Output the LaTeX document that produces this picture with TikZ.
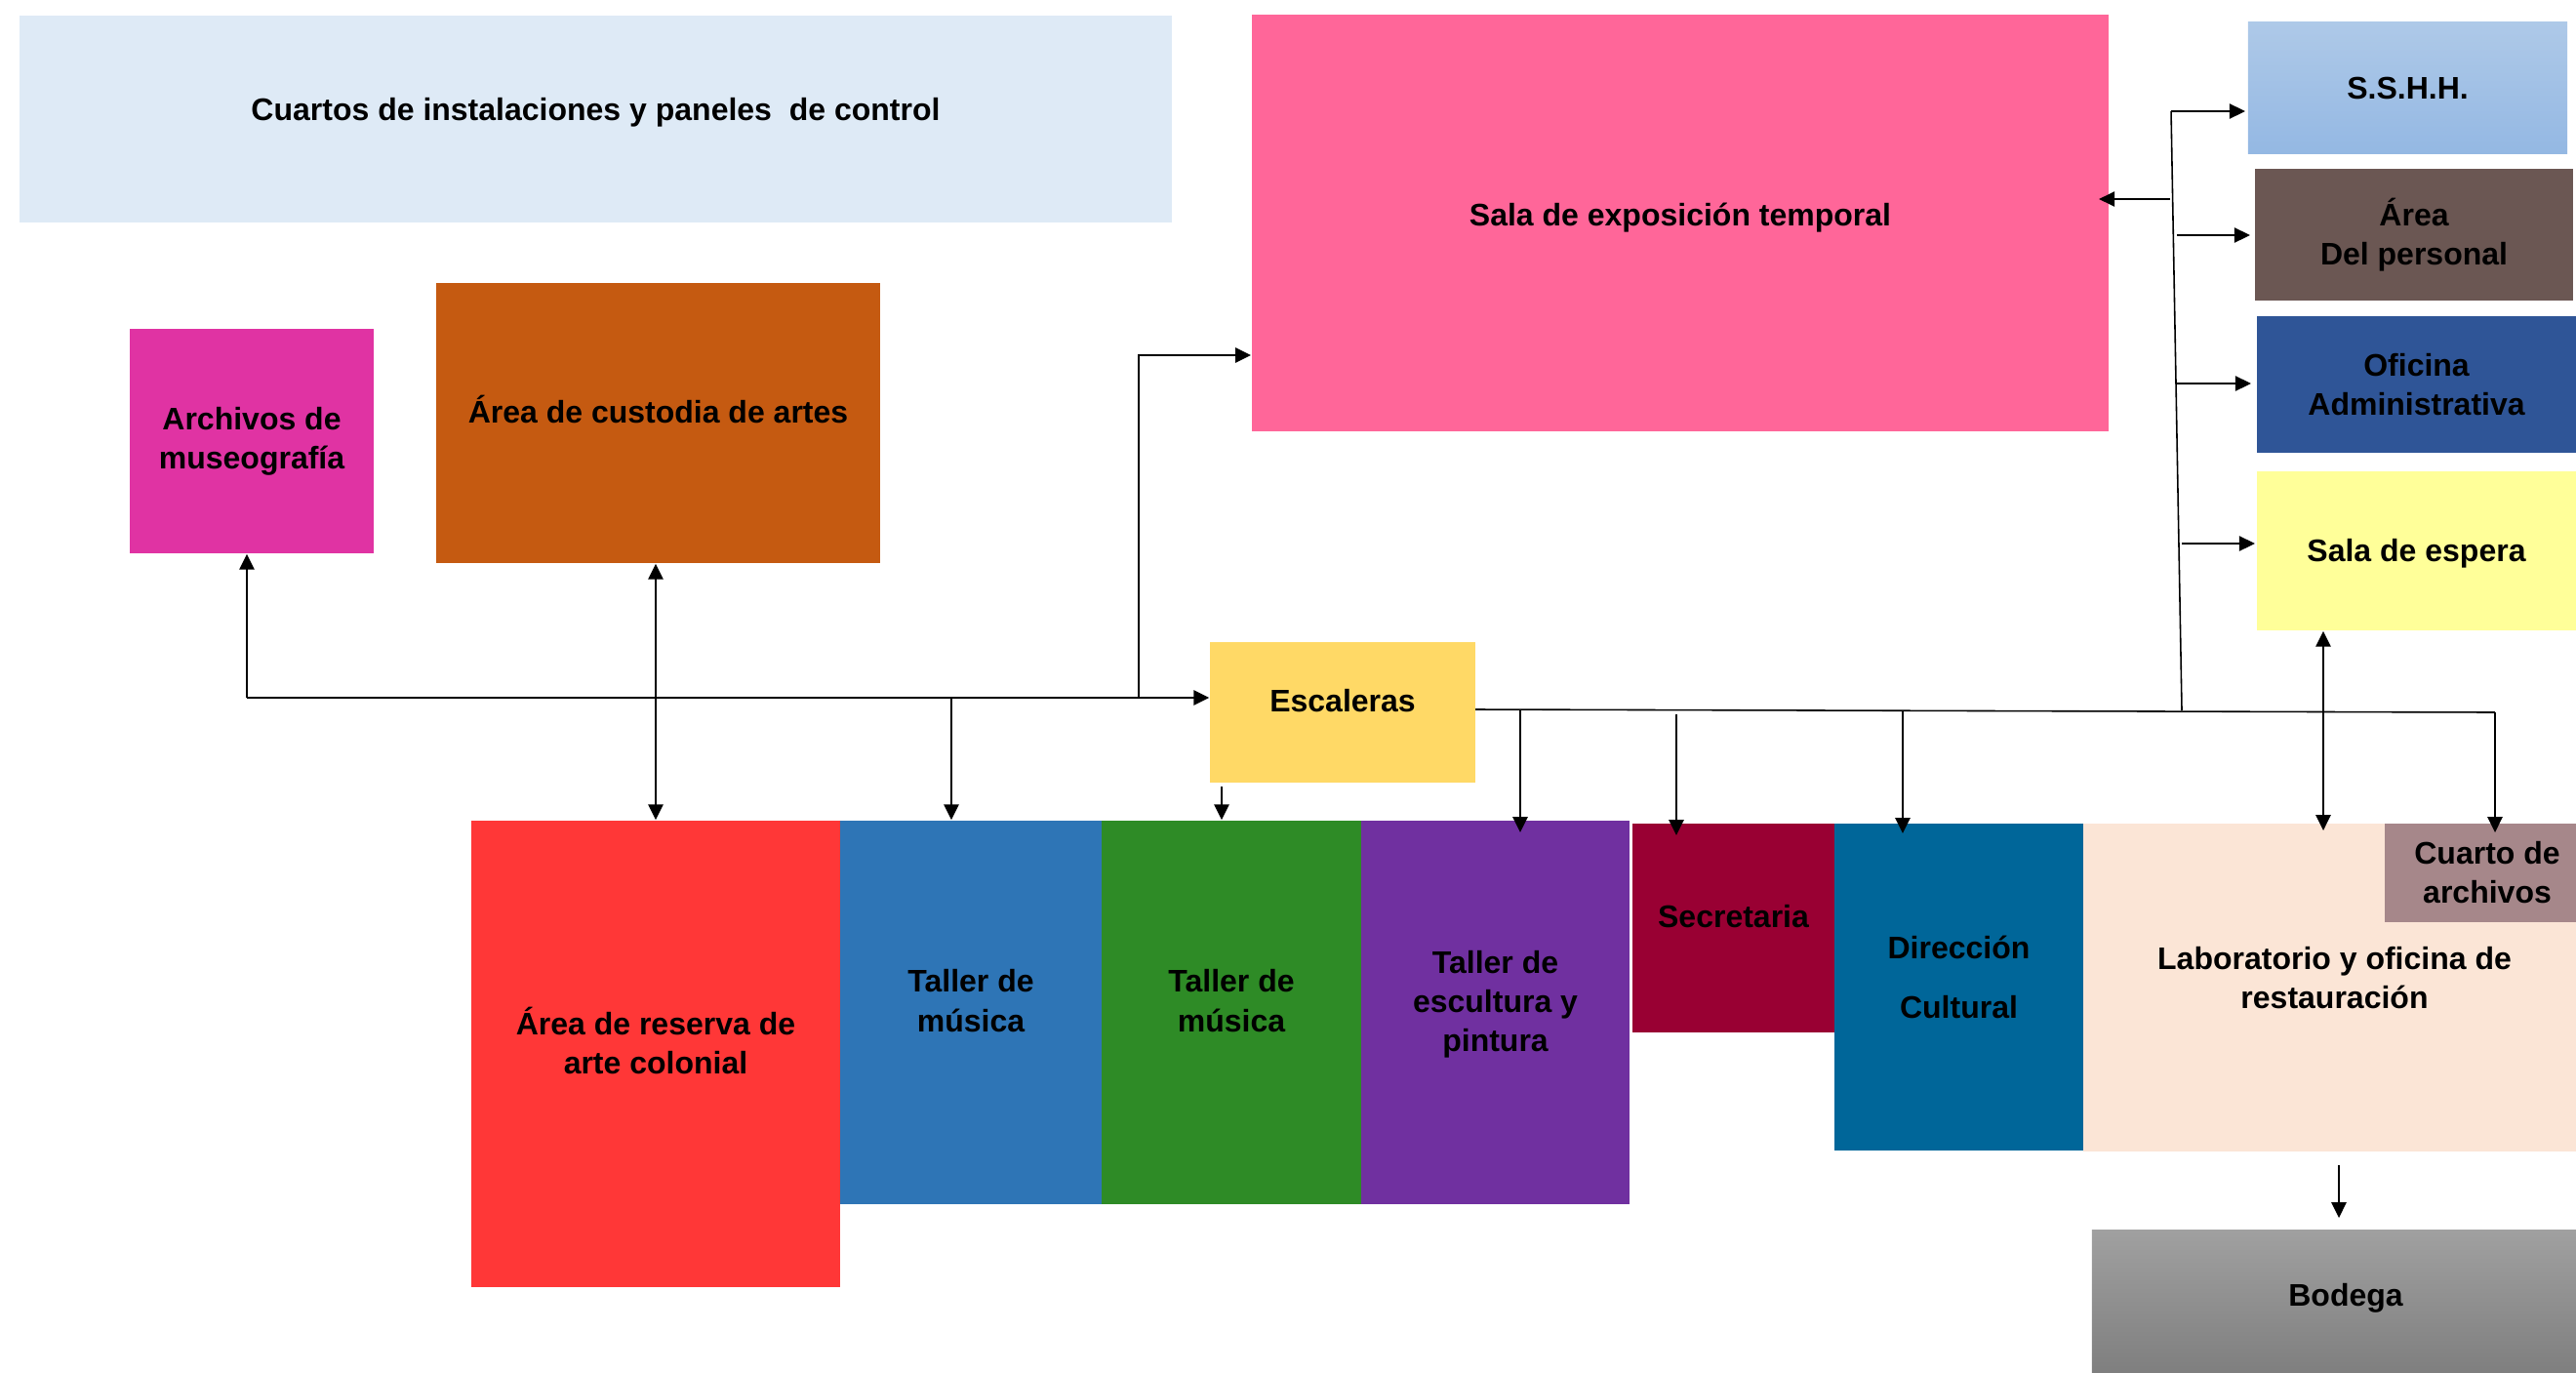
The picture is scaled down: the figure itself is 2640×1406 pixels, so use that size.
\documentclass[tikz,border=0pt]{standalone}
\usepackage{fontspec}
\setmainfont{Liberation Sans}
\usetikzlibrary{arrows.meta}
\definecolor{cuartosC}{HTML}{DEEAF6}
\definecolor{salaC}{HTML}{FF6699}
\definecolor{archC}{HTML}{E033A3}
\definecolor{custC}{HTML}{C55A11}
\definecolor{resC}{HTML}{FF3737}
\definecolor{tmA}{HTML}{2E75B6}
\definecolor{tmB}{HTML}{2E8B26}
\definecolor{tescC}{HTML}{7030A0}
\definecolor{secC}{HTML}{990033}
\definecolor{dirC}{HTML}{006699}
\definecolor{labC}{HTML}{FBE5D6}
\definecolor{cuartoC}{HTML}{A6878A}
\definecolor{bodTop}{HTML}{A0A0A0}
\definecolor{bodBot}{HTML}{7F7F7F}
\definecolor{sshhTop}{HTML}{AEC9E8}
\definecolor{sshhBot}{HTML}{94B8E3}
\definecolor{persC}{HTML}{6B5753}
\definecolor{ofiC}{HTML}{2F5597}
\definecolor{espC}{HTML}{FFFF99}
\definecolor{escC}{HTML}{FFD966}
% shift a (possibly multi-line) label right by #1 and up by #2, keeping its size
\newcommand\mvtxt[3]{\raisebox{#2}[\height][\depth]{\hspace*{#1}\begin{tabular}{@{}c@{}}#3\end{tabular}\hspace*{-#1}}}
\begin{document}
\begin{tikzpicture}[x=0.01cm,y=-0.01cm,
  box/.style={rectangle, inner sep=2pt, align=center, text=black,
    font=\fontsize{9.1pt}{11.4pt}\selectfont\bfseries},
  thinarrow/.style={line width=0.6pt, -{Triangle[length=4.5pt,width=4.3pt]}},
  dblarrow/.style={line width=0.6pt, {Triangle[length=4.5pt,width=4.3pt]}-{Triangle[length=4.5pt,width=4.3pt]}},
  thickarrow/.style={line width=0.65pt, -{Triangle[length=4.6pt,width=4.3pt]}},
  busline/.style={line width=0.45pt}]
\useasboundingbox (0,0) rectangle (2640,1406);

% boxes
\node[box, fill=cuartosC, minimum width=11.81cm, minimum height=2.12cm] (cuartos) at (610.5,122) {\mvtxt{0cm}{0.07cm}{Cuartos de instalaciones y paneles~~de control}};
\node[box, fill=salaC, minimum width=8.78cm, minimum height=4.27cm] (sala) at (1722,228.5) {\mvtxt{0cm}{0.05cm}{Sala de exposición temporal}};
\node[box, fill=archC, minimum width=2.50cm, minimum height=2.30cm] (arch) at (258,452) {Archivos de\\museografía};
\node[box, fill=custC, minimum width=4.55cm, minimum height=2.87cm] (cust) at (674.5,433.5) {\mvtxt{0cm}{0.08cm}{Área de custodia de artes}};
\node[box, fill=escC, minimum width=2.72cm, minimum height=1.44cm] (esc) at (1376,730) {\mvtxt{0cm}{0.085cm}{Escaleras}};
\node[box, fill=resC, minimum width=3.78cm, minimum height=4.78cm] (res) at (672,1080) {\mvtxt{0cm}{0.08cm}{Área de reserva de\\arte colonial}};
\node[box, fill=tmA, minimum width=2.68cm, minimum height=3.93cm] (tmus1) at (995,1037.5) {\mvtxt{0cm}{0.085cm}{Taller de\\música}};
\node[box, fill=tmB, minimum width=2.66cm, minimum height=3.93cm] (tmus2) at (1262,1037.5) {\mvtxt{0cm}{0.085cm}{Taller de\\música}};
\node[box, fill=tescC, minimum width=2.75cm, minimum height=3.93cm] (tesc) at (1532.5,1037.5) {\mvtxt{0cm}{0.08cm}{Taller de\\escultura y\\pintura}};
\node[box, fill=secC, minimum width=2.07cm, minimum height=2.14cm] (sec) at (1776.5,951) {\mvtxt{0cm}{0.09cm}{Secretaria}};
\node[box, fill=dirC, minimum width=2.55cm, minimum height=3.35cm] (dir) at (2007.5,1011.5) {\mvtxt{0cm}{0.065cm}{Dirección\\[6.2pt]Cultural}};
\node[box, fill=labC, minimum width=5.05cm, minimum height=3.36cm] (lab) at (2387.5,1012) {\mvtxt{0.05cm}{0.065cm}{Laboratorio y oficina de\\restauración}};
\node[box, fill=cuartoC, minimum width=1.96cm, minimum height=1.01cm] (cuarto) at (2542,894.5) {\mvtxt{0.07cm}{-0.03cm}{Cuarto de\\archivos}};
\node[box, top color=bodTop, bottom color=bodBot, minimum width=4.96cm, minimum height=1.45cm] (bod) at (2392,1333.5) {\mvtxt{0.12cm}{0.03cm}{Bodega}};
\node[box, top color=sshhTop, bottom color=sshhBot, minimum width=3.27cm, minimum height=1.34cm] (sshh) at (2467.5,90) {S.S.H.H.};
\node[box, fill=persC, minimum width=3.26cm, minimum height=1.35cm] (pers) at (2474,240.5) {Área\\Del personal};
\node[box, fill=ofiC, minimum width=3.27cm, minimum height=1.40cm] (ofi) at (2476.5,394) {Oficina\\Administrativa};
\node[box, fill=espC, minimum width=3.27cm, minimum height=1.63cm] (esp) at (2476.5,564.5) {\mvtxt{0cm}{-0.03cm}{Sala de espera}};

% left bus
\coordinate (bA) at (253,715);
\coordinate (bT) at (975,715);
\coordinate (bS) at (1167,715);
\coordinate (sU) at (1167,364);
\draw[thinarrow] (bA) -- (esc.west |- bA);
\draw[thinarrow] (bA) -- (bA |- arch.south);
\draw[dblarrow] (res.north |- cust.south) -- (res.north);
\draw[thinarrow] (bT) -- (bT |- tmus1.north);
\draw[thinarrow] (bS) -- (sU) -- (sala.west |- sU);
\coordinate (eS) at (1252,806);
\draw[thinarrow] (eS) -- (eS |- tmus2.north);

% right bus
\coordinate (rA) at (1512,727);
\coordinate (rB) at (2557,730);
\draw[busline] (rA) -- (rB);
\draw[thinarrow] (rB) -- (2557,853);
\coordinate (rP) at (1558,727.5);
\draw[thinarrow] (rP) -- (1558,853);
\coordinate (rS) at (1718,732);
\draw[thinarrow] (rS) -- (1718,856);
\coordinate (rD) at (1950,728.5);
\draw[thinarrow] (rD) -- (1950,854);
\coordinate (rL) at (2381,851);
\draw[dblarrow] (rL |- esp.south) -- (rL);

% trunk to the right column
\coordinate (tB) at (2236,728);
\coordinate (tT) at (2225,114);
\draw[busline] (tB) -- (tT);
\draw[thickarrow] (tT) -- (2301,114);
\draw[thickarrow] (2224,204) -- (2151,204);
\draw[thickarrow] (2231,241) -- (2306,241);
\draw[thickarrow] (2230,393) -- (2307,393);
\draw[thickarrow] (2236,557) -- (2311,557);

% to bodega
\coordinate (lB) at (2397,1194);
\draw[thinarrow] (lB) -- (2397,1248);
\end{tikzpicture}
\end{document}
